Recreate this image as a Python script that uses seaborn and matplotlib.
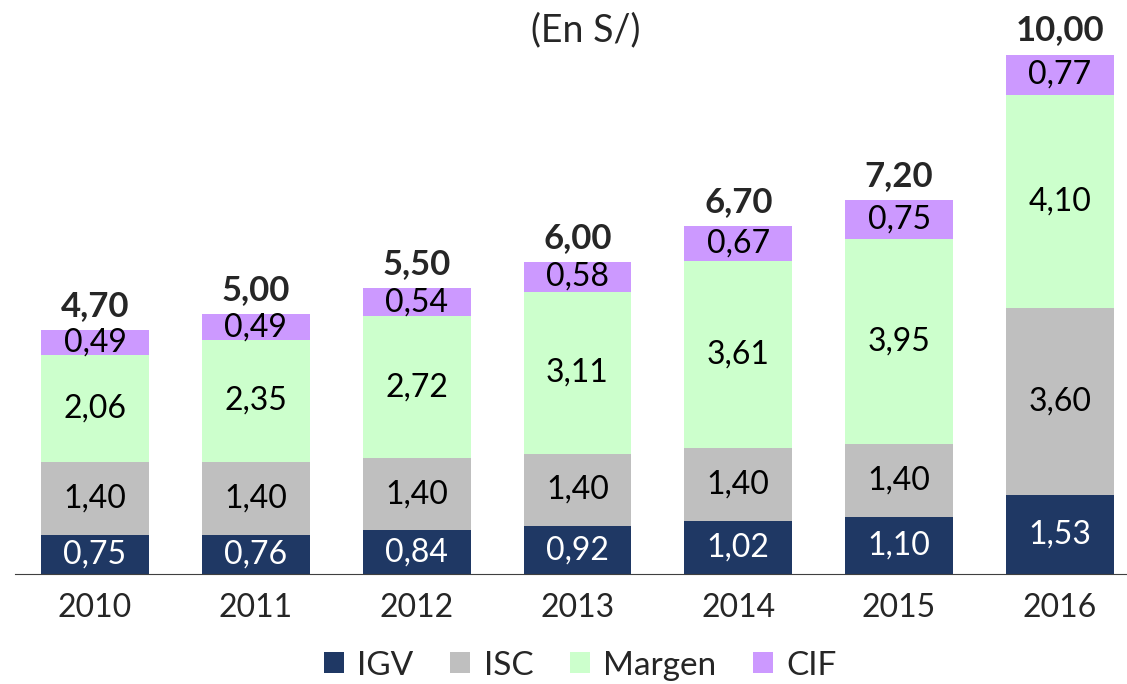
import numpy as np
import pandas as pd
import matplotlib
matplotlib.use("Agg")
import matplotlib.pyplot as plt
import seaborn as sns

# data
years = ["2010", "2011", "2012", "2013", "2014", "2015", "2016"]
igv = [0.75, 0.76, 0.84, 0.92, 1.02, 1.10, 1.53]
isc = [1.40, 1.40, 1.40, 1.40, 1.40, 1.40, 3.60]
margen = [2.06, 2.35, 2.72, 3.11, 3.61, 3.95, 4.10]
cif = [0.49, 0.49, 0.54, 0.58, 0.67, 0.75, 0.77]
totals = [4.70, 5.00, 5.50, 6.00, 6.70, 7.20, 10.00]

series = ["IGV", "ISC", "Margen", "CIF"]
colors = {"IGV": "#1F3864", "ISC": "#BFBFBF", "Margen": "#CCFFCC", "CIF": "#CC99FF"}
txt_colors = {"IGV": "white", "ISC": "black", "Margen": "black", "CIF": "black"}

df = pd.DataFrame({"year": years, "IGV": igv, "ISC": isc, "Margen": margen, "CIF": cif})
cum = df[series].cumsum(axis=1)

sns.set_style("white")
plt.rcParams["font.family"] = ["Lato", "DejaVu Sans"]

fig = plt.figure(figsize=(11.27, 6.84), dpi=100)
ax = fig.add_axes([0.013, 0.1608, 0.9988, 0.835])

# draw cumulative bars from the top layer down so they stack
for s in reversed(series):
    sns.barplot(x=df["year"], y=cum[s], color=colors[s], width=0.67,
                saturation=1, ax=ax, label=s, linewidth=0)
if ax.legend_ is not None:
    ax.legend_.remove()

# segment labels
for s in series:
    mids = cum[s] - df[s] / 2
    for i, (v, m) in enumerate(zip(df[s], mids)):
        ax.text(i, m, f"{v:.2f}".replace(".", ","), ha="center", va="center",
                fontsize=23, color=txt_colors[s])

# totals
for i, (t, top) in enumerate(zip(totals, cum["CIF"])):
    ax.annotate(f"{t:.2f}".replace(".", ","), (i, top), xytext=(0, 6),
                textcoords="offset points", ha="center", va="bottom",
                fontsize=25, fontweight="bold")

ax.set_ylim(0, 11)
ax.set_xlim(-0.5, 6.5)
ax.set_xlabel("")
ax.set_ylabel("")
ax.set_yticks([])
for sp in ["top", "right", "left"]:
    ax.spines[sp].set_visible(False)
ax.spines["bottom"].set_color("#404040")
ax.set_xticks(range(len(years)))
ax.set_xticklabels(years, fontsize=23)
ax.set_xticks(np.arange(-0.5, 7, 1), minor=True)
ax.tick_params(axis="x", which="major", length=0, pad=14)
ax.tick_params(axis="x", which="minor", length=10, direction="out", color="#404040")

handles, labels = ax.get_legend_handles_labels()
order = [labels.index(s) for s in series]
fig.legend([handles[i] for i in order], series, loc="center", bbox_to_anchor=(0.515, 0.027),
           ncol=4, frameon=False, fontsize=24, handlelength=0.6, handleheight=0.6,
           handletextpad=0.4, columnspacing=1.1)

fig.text(0.52, 0.955, "(En S/)", ha="center", va="center", fontsize=27)

fig.savefig("out.png", dpi=100)
